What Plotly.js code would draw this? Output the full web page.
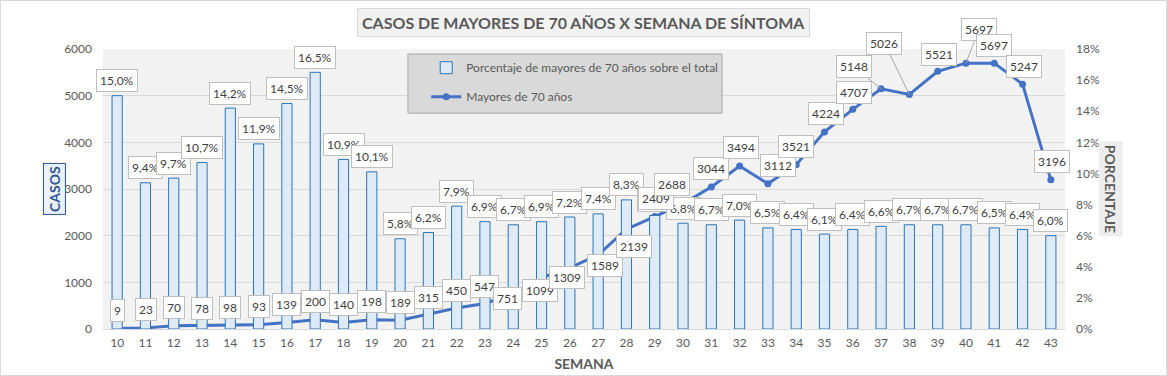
<!DOCTYPE html>
<html>
<head>
<meta charset="utf-8">
<script src="https://cdn.plot.ly/plotly-3.0.1.min.js"></script>
<style>html,body{margin:0;padding:0;background:#fff}#chart{width:1167px;height:376px}</style>
</head>
<body>
<div id="chart"></div>
<script>
// ---- data ----
const weeks = ['10','11','12','13','14','15','16','17','18','19','20','21','22','23','24','25','26','27','28','29','30','31','32','33','34','35','36','37','38','39','40','41','42','43'];
const casosMayores70 = [9,23,70,78,98,93,139,200,140,198,189,315,450,547,751,1099,1309,1589,2139,2409,2688,3044,3494,3112,3521,4224,4707,5148,5026,5521,5697,5697,5247,3196];
const porcentajeMayores70 = [15.0,9.4,9.7,10.7,14.2,11.9,14.5,16.5,10.9,10.1,5.8,6.2,7.9,6.9,6.7,6.9,7.2,7.4,8.3,7.3,6.8,6.7,7.0,6.5,6.4,6.1,6.4,6.6,6.7,6.7,6.7,6.5,6.4,6.0];
const leftTicks = [0,1000,2000,3000,4000,5000,6000];
const rightTicks = [0,2,4,6,8,10,12,14,16,18];
const titleText = 'CASOS DE MAYORES DE 70 AÑOS X SEMANA DE SÍNTOMA';
const barName = 'Porcentaje de mayores de 70 años sobre el total';
const lineName = 'Mayores de 70 años';

// ---- label placement (style: pixel offsets of label centre from point) ----
const lineLabelDx = [0,1,0,0,0,0,0,0,0,0,0,0,0,0,-6,-2,-3,7,8,1,-11,0,1,10,0,1,1,-27,-25,1,13,0,1,1];
const lineLabelDy = [-18,-18,-18,-17,-17,-18,-18,-18,-18,-18,-18,-17,-18,-17,5,13,10,11,17,-18,-19,-18,-18,-18,-18,-18,-17,-22,-51,-17,-34,-18,-18,-18];
const leaderIdx = [27,28,30];

const FONT = 'Lato, "Open Sans", sans-serif';
const GRAY = '#595959';

const traces = [
  {
    type: 'bar', x: weeks, y: porcentajeMayores70, yaxis: 'y2', name: barName,
    marker: {color: '#deebf7', line: {color: '#2e75b6', width: 1}},
    width: 0.36, legendgroup: 'a', hoverinfo: 'x+y'
  },
  {
    type: 'scatter', mode: 'lines+markers', x: weeks, y: casosMayores70, yaxis: 'y', name: lineName,
    line: {color: '#4472c4', width: 3}, marker: {color: '#4472c4', size: 7},
    legendgroup: 'b'
  }
];

const ann = [];
const boxStyle = {bgcolor: '#ffffff', bordercolor: '#bfbfbf', borderwidth: 1, borderpad: 3,
  font: {family: FONT, size: 12, color: '#404040'}};
// bar labels (x given as category index)
porcentajeMayores70.forEach((v, i) => {
  ann.push(Object.assign({x: i, y: v, xref: 'x', yref: 'y2', showarrow: false, yshift: 15,
    text: v.toFixed(1).replace('.', ',') + '%'}, boxStyle));
});
// line labels
casosMayores70.forEach((v, i) => {
  const leader = leaderIdx.indexOf(i) >= 0;
  if (leader) {
    ann.push(Object.assign({x: i, y: v, xref: 'x', yref: 'y', showarrow: true, arrowhead: 0,
      arrowwidth: 1, arrowcolor: '#a6a6a6', ax: lineLabelDx[i], ay: lineLabelDy[i], standoff: 0,
      text: String(v)}, boxStyle));
  } else {
    ann.push(Object.assign({x: i, y: v, xref: 'x', yref: 'y', showarrow: false,
      xshift: lineLabelDx[i], yshift: -lineLabelDy[i], text: String(v)}, boxStyle));
  }
});
// title
ann.push({text: '<b>' + titleText + '</b>', xref: 'paper', yref: 'paper', x: 0.4995, y: 1.096,
  showarrow: false, xanchor: 'center', yanchor: 'middle', bgcolor: '#f2f2f2', bordercolor: '#d9d9d9',
  borderwidth: 1, borderpad: 4, font: {family: FONT, size: 16, color: GRAY}});
// axis titles
ann.push({text: '<b>CASOS</b>', xref: 'paper', yref: 'paper', x: -0.051, y: 0.5, textangle: -90,
  showarrow: false, xanchor: 'center', yanchor: 'middle', bgcolor: '#eaf1fa', bordercolor: '#2f5597',
  borderwidth: 1, borderpad: 2, font: {family: FONT, size: 14, color: '#2f5597'}});
ann.push({text: '<b>PORCENTAJE</b>', xref: 'paper', yref: 'paper', x: 1.048, y: 0.5, textangle: 90,
  showarrow: false, xanchor: 'center', yanchor: 'middle', bgcolor: '#ededed', borderpad: 3,
  font: {family: FONT, size: 14, color: GRAY}});

const layout = {
  width: 1167, height: 376,
  margin: {l: 103, r: 102, t: 49, b: 47, pad: 0},
  paper_bgcolor: '#ffffff', plot_bgcolor: '#f2f2f2',
  font: {family: FONT, size: 12, color: GRAY},
  showlegend: true,
  legend: {x: 0.336, y: 0.985, xanchor: 'left', yanchor: 'top', bgcolor: 'rgba(0,0,0,0)',
    borderwidth: 0, traceorder: 'grouped', tracegroupgap: 10, font: {family: FONT, size: 12, color: GRAY}},
  xaxis: {type: 'category', range: [-0.5, weeks.length - 0.5], showgrid: false, ticks: '',
    ticklabelstandoff: 5, tickfont: {family: FONT, size: 12, color: GRAY}, showline: false, zeroline: false,
    title: {text: '<b>SEMANA</b>', standoff: 10, font: {family: FONT, size: 14, color: GRAY}}},
  yaxis: {range: [0, 6000], tickvals: leftTicks, ticktext: leftTicks.map(String), showgrid: true,
    gridcolor: '#d9d9d9', gridwidth: 1, zeroline: true, zerolinecolor: '#d9d9d9', ticks: '',
    ticklabelstandoff: 10, tickfont: {family: FONT, size: 12, color: GRAY}},
  yaxis2: {overlaying: 'y', side: 'right', range: [0, 18], tickvals: rightTicks,
    ticktext: rightTicks.map(t => t + '%'), showgrid: false, zeroline: false, ticks: '',
    ticklabelstandoff: 10, tickfont: {family: FONT, size: 12, color: GRAY}},
  bargap: 0.64,
  annotations: ann,
  shapes: [
    {type: 'rect', xref: 'paper', yref: 'paper', x0: 0.317, x1: 0.6435, y0: 0.771, y1: 0.982,
      fillcolor: '#d9d9d9', line: {color: '#a6a6a6', width: 1}, layer: 'above'},
    {type: 'rect', xref: 'paper', yref: 'paper', x0: -0.1066, x1: 1.1055, y0: -0.166, y1: 1.173,
      fillcolor: 'rgba(0,0,0,0)', line: {color: '#d9d9d9', width: 1}, layer: 'above'}
  ]
};

Plotly.newPlot('chart', traces, layout, {displayModeBar: false, staticPlot: true});
</script>
</body>
</html>
